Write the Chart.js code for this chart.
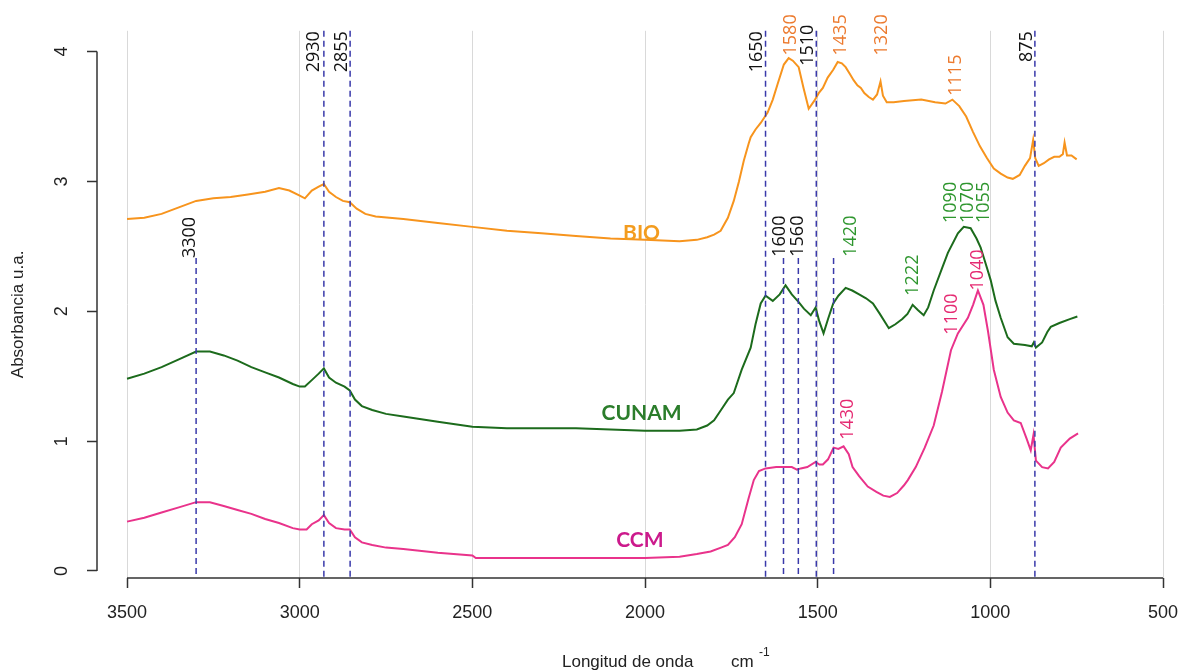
<!DOCTYPE html>
<html>
<head>
<meta charset="utf-8">
<title>Espectros FTIR</title>
<script src="https://cdn.jsdelivr.net/npm/chart.js@4.4.1/dist/chart.umd.min.js"></script>
<style>
  html, body { margin: 0; padding: 0; background: #ffffff; }
  #wrap { width: 1181px; height: 670px; }
</style>
</head>
<body>
<div id="wrap"><canvas id="myChart" width="1181" height="670"></canvas></div>
<script>
// wavenumbers (cm-1) and absorbance, one pair of arrays per sample
var wnBIO = [3500, 3450, 3400, 3350, 3300, 3250, 3200, 3150, 3100, 3060, 3030, 3000, 2985, 2965, 2945, 2930, 2915, 2895, 2875, 2855, 2835, 2810, 2780, 2700, 2600, 2500, 2400, 2300, 2200, 2100, 2000, 1900, 1850, 1820, 1800, 1781, 1760, 1743, 1728, 1714, 1700, 1694, 1680, 1665, 1645, 1630, 1616, 1598, 1584, 1572, 1555, 1541, 1526, 1510, 1497, 1485, 1471, 1455, 1442, 1430, 1419, 1405, 1396, 1385, 1375, 1365, 1352, 1340, 1328, 1318, 1311, 1300, 1280, 1250, 1200, 1160, 1130, 1110, 1090, 1070, 1050, 1030, 1010, 990, 970, 950, 935, 915, 900, 885, 876, 870, 860, 845, 830, 815, 800, 790, 785, 778, 765, 750];
var absBIO = [2.71, 2.72, 2.75, 2.80, 2.85, 2.87, 2.88, 2.90, 2.92, 2.95, 2.93, 2.89, 2.87, 2.93, 2.96, 2.98, 2.92, 2.88, 2.85, 2.84, 2.79, 2.75, 2.73, 2.71, 2.68, 2.65, 2.62, 2.60, 2.58, 2.56, 2.55, 2.54, 2.55, 2.57, 2.59, 2.62, 2.72, 2.85, 3.00, 3.16, 3.29, 3.34, 3.40, 3.45, 3.53, 3.63, 3.75, 3.90, 3.95, 3.93, 3.88, 3.72, 3.56, 3.62, 3.68, 3.72, 3.80, 3.86, 3.92, 3.91, 3.88, 3.82, 3.78, 3.74, 3.72, 3.68, 3.65, 3.63, 3.67, 3.77, 3.66, 3.61, 3.61, 3.62, 3.63, 3.61, 3.60, 3.63, 3.58, 3.50, 3.38, 3.27, 3.18, 3.10, 3.06, 3.03, 3.02, 3.05, 3.12, 3.18, 3.32, 3.18, 3.12, 3.14, 3.17, 3.19, 3.19, 3.21, 3.30, 3.20, 3.20, 3.17];

var wnCUNAM = [3500, 3450, 3400, 3350, 3300, 3260, 3220, 3180, 3140, 3100, 3060, 3020, 3000, 2985, 2965, 2945, 2930, 2915, 2895, 2870, 2855, 2840, 2820, 2790, 2750, 2700, 2600, 2500, 2400, 2200, 2000, 1900, 1850, 1820, 1800, 1780, 1760, 1743, 1720, 1694, 1680, 1665, 1651, 1630, 1610, 1593, 1575, 1555, 1540, 1520, 1506, 1495, 1483, 1470, 1455, 1440, 1419, 1400, 1380, 1360, 1340, 1320, 1294, 1275, 1255, 1240, 1225, 1210, 1193, 1180, 1164, 1140, 1123, 1094, 1077, 1057, 1040, 1028, 1015, 999, 985, 970, 950, 932, 900, 880, 874, 868, 850, 835, 825, 800, 770, 748];
var absCUNAM = [1.48, 1.52, 1.57, 1.63, 1.69, 1.69, 1.66, 1.62, 1.57, 1.53, 1.49, 1.44, 1.42, 1.42, 1.47, 1.52, 1.56, 1.49, 1.45, 1.42, 1.39, 1.32, 1.27, 1.24, 1.21, 1.19, 1.15, 1.11, 1.10, 1.10, 1.08, 1.08, 1.09, 1.12, 1.16, 1.24, 1.32, 1.37, 1.55, 1.72, 1.90, 2.06, 2.12, 2.08, 2.13, 2.20, 2.13, 2.07, 2.02, 1.97, 2.03, 1.92, 1.83, 1.94, 2.06, 2.12, 2.18, 2.16, 2.13, 2.10, 2.06, 1.98, 1.87, 1.90, 1.94, 1.98, 2.05, 2.01, 1.97, 2.03, 2.16, 2.33, 2.45, 2.60, 2.65, 2.64, 2.56, 2.49, 2.38, 2.24, 2.08, 1.95, 1.80, 1.75, 1.74, 1.73, 1.76, 1.72, 1.76, 1.84, 1.88, 1.91, 1.94, 1.96];

var wnCCM = [3500, 3450, 3400, 3350, 3300, 3260, 3220, 3180, 3140, 3100, 3060, 3020, 3000, 2980, 2965, 2945, 2930, 2915, 2895, 2870, 2855, 2840, 2820, 2790, 2750, 2700, 2600, 2500, 2490, 2200, 2000, 1900, 1850, 1810, 1780, 1760, 1740, 1720, 1700, 1685, 1670, 1651, 1620, 1593, 1575, 1560, 1549, 1530, 1506, 1495, 1485, 1470, 1454, 1440, 1425, 1410, 1399, 1380, 1355, 1330, 1310, 1291, 1270, 1250, 1239, 1216, 1190, 1164, 1140, 1114, 1094, 1065, 1050, 1036, 1020, 1007, 990, 970, 950, 932, 912, 895, 883, 875, 868, 850, 833, 815, 796, 770, 746];
var absCCM = [0.38, 0.41, 0.45, 0.49, 0.53, 0.53, 0.50, 0.47, 0.44, 0.40, 0.37, 0.33, 0.32, 0.32, 0.36, 0.39, 0.43, 0.37, 0.33, 0.32, 0.32, 0.26, 0.22, 0.20, 0.18, 0.17, 0.14, 0.12, 0.10, 0.10, 0.10, 0.11, 0.13, 0.15, 0.18, 0.20, 0.26, 0.36, 0.56, 0.70, 0.77, 0.79, 0.80, 0.80, 0.80, 0.78, 0.79, 0.80, 0.84, 0.82, 0.82, 0.86, 0.95, 0.94, 0.96, 0.90, 0.80, 0.73, 0.65, 0.61, 0.58, 0.57, 0.60, 0.66, 0.70, 0.80, 0.95, 1.12, 1.38, 1.70, 1.83, 1.95, 2.05, 2.16, 2.05, 1.85, 1.55, 1.34, 1.22, 1.16, 1.14, 1.02, 0.93, 1.05, 0.85, 0.80, 0.79, 0.84, 0.95, 1.02, 1.06];

var seriesNames = ['BIO', 'CUNAM', 'CCM'];
// where each sample name is written [wavenumber, absorbance]
var nameAnchors = [[2010, 2.60], [2010, 1.215], [2015, 0.24]];

var xTicks = [3500, 3000, 2500, 2000, 1500, 1000, 500];
var yTicks = [0, 1, 2, 3, 4];

// dashed marker lines: full height, and the shorter ones from the middle
var fullLines = [2930, 2854, 1651, 1504, 871];
var shortLines = [3300, 1599, 1556, 1454];
var shortTop = 2.41;

// peak labels [text, wavenumber at text centre, absorbance at text start]
var blackLabels = [['3300', 3317, 2.41], ['2930', 2958, 3.84], ['2855', 2877, 3.84], ['1650', 1677, 3.84], ['1510', 1529, 3.89], ['875', 894, 3.92], ['1600', 1610, 2.42], ['1560', 1558, 2.42]];
var bioLabels = [['1580', 1578, 3.97], ['1435', 1433, 3.97], ['1320', 1314, 3.97], ['1115', 1100, 3.66]];
var cunamLabels = [['1420', 1404, 2.42], ['1222', 1225, 2.12], ['1090', 1114, 2.68], ['1070', 1065, 2.68], ['1055', 1019, 2.68]];
var ccmLabels = [['1430', 1413, 1.01], ['1100', 1112, 1.82], ['1040', 1036, 2.16]];

function toPoints(xs, ys) {
    var pts = [];
    for (var i = 0; i < xs.length; i++) pts.push({ x: xs[i], y: ys[i] });
    return pts;
}

var lineColors = ['#f7941d', '#1c6b1c', '#e9338b'];
var nameColors = ['#f39c1f', '#2b7d2b', '#cc1a8c'];
var AXIS = '#333333';

var annotations = {
    id: 'annotations',
    afterDatasetsDraw: function (chart) {
        var ctx = chart.ctx;
        var xs = chart.scales.x, ys = chart.scales.y;
        var area = chart.chartArea;

        // axis lines from first to last tick, like base R
        ctx.save();
        ctx.strokeStyle = AXIS;
        ctx.lineWidth = 1.5;
        ctx.beginPath();
        ctx.moveTo(xs.getPixelForValue(xTicks[0]), area.bottom);
        ctx.lineTo(xs.getPixelForValue(xTicks[xTicks.length - 1]), area.bottom);
        ctx.moveTo(area.left, ys.getPixelForValue(yTicks[0]));
        ctx.lineTo(area.left, ys.getPixelForValue(yTicks[yTicks.length - 1]));
        ctx.stroke();

        // dashed peak markers
        ctx.strokeStyle = '#3a3aaa';
        ctx.lineWidth = 1.5;
        ctx.setLineDash([6, 4]);
        ctx.beginPath();
        fullLines.forEach(function (wn) {
            var px = xs.getPixelForValue(wn);
            ctx.moveTo(px, area.top);
            ctx.lineTo(px, area.bottom);
        });
        shortLines.forEach(function (wn) {
            var px = xs.getPixelForValue(wn);
            ctx.moveTo(px, ys.getPixelForValue(shortTop));
            ctx.lineTo(px, area.bottom);
        });
        ctx.stroke();
        ctx.setLineDash([]);

        // rotated peak labels
        ctx.font = '18px "Open Sans", Lato, sans-serif';
        ctx.textAlign = 'left';
        ctx.textBaseline = 'middle';
        var groups = [[blackLabels, '#111111'], [bioLabels, '#ec7a2e'], [cunamLabels, '#2e962e'], [ccmLabels, '#e52a72']];
        groups.forEach(function (g) {
            ctx.fillStyle = g[1];
            g[0].forEach(function (lab) {
                ctx.save();
                ctx.translate(xs.getPixelForValue(lab[1]), ys.getPixelForValue(lab[2]));
                ctx.rotate(-Math.PI / 2);
                ctx.fillText(lab[0], 0, 0);
                ctx.restore();
            });
        });

        // sample names
        ctx.font = 'bold 21px Lato, "Open Sans", sans-serif';
        ctx.textAlign = 'center';
        seriesNames.forEach(function (name, i) {
            ctx.fillStyle = nameColors[i];
            ctx.fillText(name, xs.getPixelForValue(nameAnchors[i][0]), ys.getPixelForValue(nameAnchors[i][1]));
        });

        // axis titles
        ctx.fillStyle = '#222222';
        ctx.font = '17px "Liberation Sans", Arial, sans-serif';
        ctx.textAlign = 'left';
        ctx.textBaseline = 'alphabetic';
        ctx.fillText('Longitud de onda', 562, 667);
        ctx.fillText('cm', 731, 667);
        ctx.font = '12px "Liberation Sans", Arial, sans-serif';
        ctx.fillText('-1', 759, 656);

        ctx.font = '17px "Liberation Sans", Arial, sans-serif';
        ctx.textAlign = 'center';
        ctx.textBaseline = 'middle';
        ctx.translate(18, (area.top + area.bottom) / 2 + 10);
        ctx.rotate(-Math.PI / 2);
        ctx.fillText('Absorbancia u.a.', 0, 0);
        ctx.restore();
    }
};

var ctx = document.getElementById('myChart').getContext('2d');
var myChart = new Chart(ctx, {
    type: 'line',
    data: {
        datasets: [
            { label: seriesNames[0], data: toPoints(wnBIO, absBIO), borderColor: lineColors[0] },
            { label: seriesNames[1], data: toPoints(wnCUNAM, absCUNAM), borderColor: lineColors[1] },
            { label: seriesNames[2], data: toPoints(wnCCM, absCCM), borderColor: lineColors[2] }
        ]
    },
    options: {
        responsive: false,
        animation: false,
        devicePixelRatio: 1,
        layout: { padding: { top: 30, right: 18, left: 0, bottom: 0 } },
        elements: {
            line: { borderWidth: 2, tension: 0, fill: false },
            point: { radius: 0 }
        },
        plugins: {
            legend: { display: false },
            tooltip: { enabled: false }
        },
        scales: {
            x: {
                type: 'linear',
                reverse: true,
                min: 500,
                max: 3587,
                afterBuildTicks: function (scale) {
                    scale.ticks = xTicks.map(function (v) { return { value: v }; });
                },
                afterFit: function (scale) { scale.height = 92; scale.paddingLeft = 0; scale.paddingRight = 0; },
                border: { display: false },
                grid: { color: '#d9d9d9', lineWidth: 1, tickColor: AXIS, tickLength: 10, tickWidth: 1.5 },
                ticks: {
                    color: '#222222',
                    font: { family: '"Liberation Sans", Arial, sans-serif', size: 18 },
                    maxRotation: 0,
                    padding: 14,
                    autoSkip: false,
                    callback: function (value) { return String(value); }
                }
            },
            y: {
                min: -0.054,
                max: 4.16,
                afterBuildTicks: function (scale) {
                    scale.ticks = yTicks.map(function (v) { return { value: v }; });
                },
                afterFit: function (scale) { scale.width = 97; },
                border: { display: false },
                grid: { drawOnChartArea: false, tickColor: AXIS, tickLength: 10, tickWidth: 1.5 },
                ticks: {
                    color: '#222222',
                    font: { family: '"Liberation Sans", Arial, sans-serif', size: 18 },
                    minRotation: 90,
                    maxRotation: 90,
                    crossAlign: 'center',
                    padding: 20,
                    callback: function (value) { return String(value); }
                }
            }
        }
    },
    plugins: [annotations]
});
</script>
</body>
</html>
